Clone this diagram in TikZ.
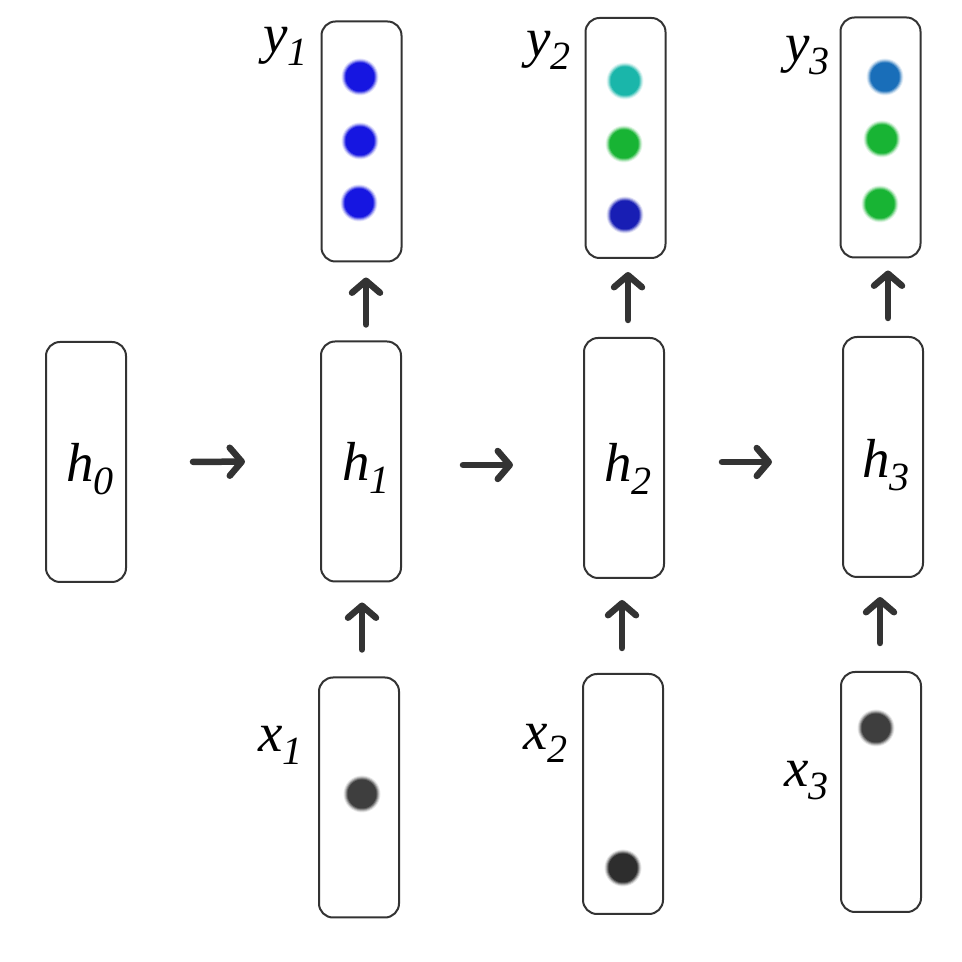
\documentclass[tikz,border=0pt]{standalone}
\usepackage{fontspec}
\setmainfont{Liberation Serif}
\usetikzlibrary{arrows.meta}
\definecolor{ink}{HTML}{333333}
\definecolor{cblue}{RGB}{22,22,225}
\definecolor{cteal}{RGB}{26,182,170}
\definecolor{cgreen}{RGB}{24,180,52}
\definecolor{cdblue}{RGB}{24,30,180}
\definecolor{csteel}{RGB}{25,110,185}
\definecolor{cgrayA}{RGB}{62,62,62}
\definecolor{cgrayB}{RGB}{45,45,45}
\newcommand\lsub[1]{\raisebox{-13pt}{\fontsize{40}{40}\selectfont #1}}
\newcommand\blob[2]{%
  \fill[#2!12] #1 circle (18.5);
  \fill[#2!30] #1 circle (17.5);
  \fill[#2!55] #1 circle (16.5);
  \fill[#2!80] #1 circle (15.5);
  \fill[#2] #1 circle (14.5);}
\begin{document}
\begin{tikzpicture}[x=1pt,y=1pt,
  box/.style={draw=ink, line width=2pt, rounded corners=14pt, minimum width=80pt, minimum height=240pt, inner sep=0pt},
  arr/.style={draw=ink, line width=6.5pt, line cap=round, -{Straight Barb[length=12pt,width=28pt,round]}},
  lbl/.style={anchor=base west, inner sep=0pt, font=\fontsize{55}{55}\selectfont\itshape}]
\useasboundingbox (0,0) rectangle (962,962);
% hidden boxes
\node[box] (h0) at (86,500) {};
\node[box] (h1) at (361,500.5) {};
\node[box] (h2) at (624,504) {};
\node[box] (h3) at (883,505) {};
% outputs
\node[box] (y1) at (361.5,820.5) {};
\node[box] (y2) at (625.5,824) {};
\node[box] (y3) at (880.5,824.5) {};
% inputs
\node[box] (x1) at (359,164.5) {};
\node[box] (x2) at (623,168) {};
\node[box] (x3) at (881,170) {};
% labels
\node[lbl] (lh0) at (66,480) {h\lsub{0}};
\node[lbl] (lh1) at (342,481) {h\lsub{1}};
\node[lbl] (lh2) at (604,480) {h\lsub{2}};
\node[lbl] (lh3) at (862,484) {h\lsub{3}};
\node[lbl] (ly1) at (263,909) {y\lsub{1}};
\node[lbl] (ly2) at (526,905) {y\lsub{2}};
\node[lbl] (ly3) at (785,900) {y\lsub{3}};
\node[lbl] (lx1) at (258,210) {x\lsub{1}};
\node[lbl] (lx2) at (523,212) {x\lsub{2}};
\node[lbl] (lx3) at (784,175) {x\lsub{3}};
% dots
\blob{(360,885)}{cblue}
\blob{(360,821)}{cblue}
\blob{(359,759)}{cblue}
\blob{(625,881)}{cteal}
\blob{(624,818)}{cgreen}
\blob{(625,747)}{cdblue}
\blob{(885,885)}{csteel}
\blob{(882,823)}{cgreen}
\blob{(880,758)}{cgreen}
\blob{(362,168)}{cgrayA}
\blob{(623,94)}{cgrayB}
\blob{(876,234)}{cgrayA}
% horizontal arrows
\draw[arr, shorten <=66pt, shorten >=75pt] (h0.east) -- (h1.west);
\draw[arr, shorten <=61pt, shorten >=70pt] ([yshift=-3.5pt]h1.east) -- ([yshift=-7pt]h2.west);
\draw[arr, shorten <=57pt, shorten >=70pt] ([yshift=-4pt]h2.east) -- ([yshift=-5pt]h3.west);
% input arrows
\draw[arr, shorten <=27pt, shorten >=20pt] ([xshift=3pt]x1.north) -- ([xshift=1pt]h1.south);
\draw[arr, shorten <=25pt, shorten >=21pt] ([xshift=-1pt]x2.north) -- ([xshift=-2pt]h2.south);
\draw[arr, shorten <=28pt, shorten >=19pt] ([xshift=-1pt]x3.north) -- ([xshift=-3pt]h3.south);
% output arrows
\draw[arr, shorten <=16pt, shorten >=15pt] ([xshift=5pt]h1.north) -- ([xshift=4.5pt]y1.south);
\draw[arr, shorten <=17pt, shorten >=13pt] ([xshift=4pt]h2.north) -- ([xshift=2.5pt]y2.south);
\draw[arr, shorten <=18pt, shorten >=12pt] ([xshift=5pt]h3.north) -- ([xshift=7.5pt]y3.south);
\end{tikzpicture}
\end{document}
